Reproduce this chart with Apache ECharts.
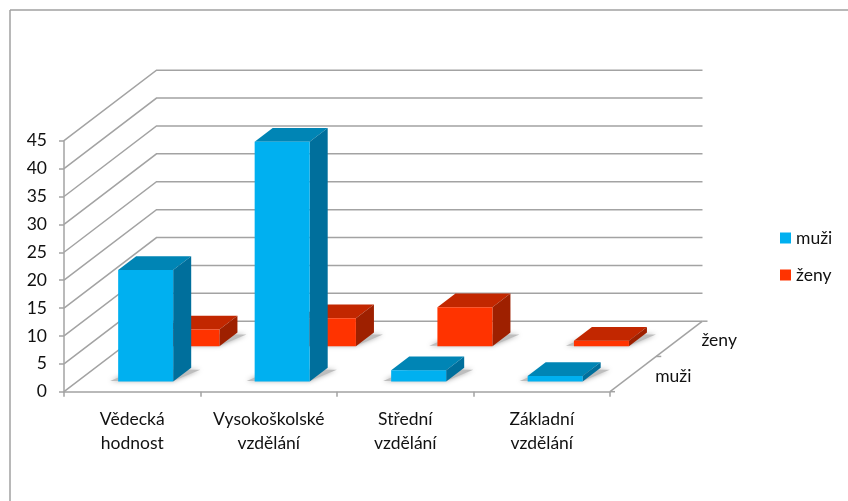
<!DOCTYPE html>
<html>
<head>
<meta charset="utf-8">
<title>Vzdělání</title>
<script src="https://cdn.jsdelivr.net/npm/echarts@6/dist/echarts.min.js"></script>
<style>
  html, body { margin: 0; padding: 0; background: #fff; }
  #chart { width: 848px; height: 501px; }
</style>
</head>
<body>
<div id="chart"></div>
<script>
const categories = ["Vědecká\nhodnost", "Vysokoškolské\nvzdělání", "Střední\nvzdělání", "Základní\nvzdělání"];
const menValues = [20, 43, 2, 1];
const womenValues = [3, 5, 7, 1];
const yTicks = [0, 5, 10, 15, 20, 25, 30, 35, 40, 45];
const depthLabels = ["muži", "ženy"];

const FONT = "Lato";
const FONT_SIZE = 17.5;
const GRID = "#a3a3a3";
const TEXT = "#111";
// posun z přední hrany podlahy na zadní stěnu
const DX = 92.5, DY = -70.5;
const BAR_W = 55, BAR_D = 0.195;

function wallItem(params, api) {
  const rect = params.coordSys;
  const p = api.coord([0, api.value(0)]);
  const x0 = rect.x, y = p[1];
  return {
    type: "polyline",
    shape: { points: [[x0, y], [x0 + DX, y + DY], [x0 + rect.width + DX, y + DY]] },
    style: { stroke: GRID, lineWidth: 1.5, fill: null },
    silent: true
  };
}

function barRenderer(z, front, top, side) {
  return function (params, api) {
    const i = api.value(0);
    const c0 = api.coord([i, 0]);
    const c1 = api.coord([i, api.value(1)]);
    const L = c0[0] - BAR_W / 2 + DX * z;
    const R = L + BAR_W;
    const B = c0[1] + DY * z;
    const T = c1[1] + DY * z;
    const dx = DX * BAR_D, dy = DY * BAR_D;
    return {
      type: "group",
      children: [
        {
          type: "polygon",
          shape: { points: [[L - 8, B - 0.5], [R, B - 0.5], [R + dx + 9, B + dy + 2], [L + dx, B + dy + 2]] },
          style: { fill: "#bdbdbd", shadowBlur: 5, shadowColor: "#a8a8a8" }
        },
        {
          type: "polygon",
          shape: { points: [[L, T], [R, T], [R + dx, T + dy], [L + dx, T + dy]] },
          style: { fill: top }
        },
        {
          type: "polygon",
          shape: { points: [[R, T], [R + dx, T + dy], [R + dx, B + dy], [R, B]] },
          style: { fill: side }
        },
        {
          type: "rect",
          shape: { x: L, y: T, width: BAR_W, height: B - T },
          style: { fill: front }
        }
      ]
    };
  };
}

function depthAxisItem(params, api) {
  const rect = params.coordSys;
  const x = rect.x + rect.width, y = rect.y + rect.height;
  const children = [{
    type: "line",
    shape: { x1: x, y1: y, x2: x + DX, y2: y + DY },
    style: { stroke: GRID, lineWidth: 1.5 }
  }];
  [0, 0.5, 1].forEach(function (t) {
    children.push({
      type: "line",
      shape: { x1: x + DX * t, y1: y + DY * t, x2: x + DX * t + 5, y2: y + DY * t },
      style: { stroke: GRID, lineWidth: 1.5 }
    });
  });
  depthLabels.forEach(function (name, k) {
    const t = 0.25 + k * 0.5;
    children.push({
      type: "text",
      style: {
        x: x + DX * t + 22, y: y + DY * t + 2,
        text: name, fill: TEXT, font: FONT_SIZE + "px " + FONT,
        textAlign: "left", textVerticalAlign: "middle"
      }
    });
  });
  return { type: "group", children: children };
}

const chart = echarts.init(document.getElementById("chart"));
chart.setOption({
  animation: false,
  backgroundColor: "#fff",
  textStyle: { fontFamily: FONT },
  graphic: [
    { type: "line", shape: { x1: 10, y1: 10, x2: 848, y2: 10 }, style: { stroke: "#a0a0a0", lineWidth: 1.5 } },
    { type: "line", shape: { x1: 10, y1: 10, x2: 10, y2: 501 }, style: { stroke: "#a0a0a0", lineWidth: 1.5 } }
  ],
  grid: { left: 64, right: 238, top: 140.7, bottom: 109.3 },
  legend: {
    data: [
      { name: "muži", icon: "rect" },
      { name: "ženy", icon: "rect" }
    ],
    orient: "vertical",
    left: 775,
    top: 224,
    itemWidth: 11,
    itemHeight: 11,
    itemGap: 19,
    selectedMode: false,
    textStyle: { fontFamily: FONT, fontSize: FONT_SIZE, color: TEXT }
  },
  xAxis: {
    type: "category",
    data: categories,
    axisLine: { lineStyle: { color: GRID, width: 1.5 } },
    axisTick: { show: true, length: 5, lineStyle: { color: GRID, width: 1.5 } },
    axisLabel: { fontFamily: FONT, fontSize: FONT_SIZE, color: TEXT, margin: 15.5, lineHeight: 24, interval: 0 }
  },
  yAxis: {
    type: "value",
    min: 0,
    max: 45,
    interval: 5,
    splitLine: { show: false },
    axisLine: { show: true, lineStyle: { color: GRID, width: 1.5 } },
    axisTick: { show: true, length: 5, lineStyle: { color: GRID, width: 1.5 } },
    axisLabel: { fontFamily: FONT, fontSize: FONT_SIZE, color: TEXT, margin: 17 }
  },
  series: [
    {
      type: "custom",
      name: "stěny",
      renderItem: wallItem,
      data: yTicks.map(function (v) { return [v]; }),
      encode: { y: 0 },
      silent: true,
      z: 1
    },
    {
      type: "custom",
      name: "hloubka",
      renderItem: depthAxisItem,
      data: [[0, 0]],
      silent: true,
      z: 1
    },
    {
      type: "custom",
      name: "ženy",
      renderItem: barRenderer(0.645, "#ff3300", "#c22700", "#9e2000"),
      data: womenValues.map(function (v, i) { return [i, v]; }),
      encode: { x: 0, y: 1 },
      itemStyle: { color: "#ff3300" },
      z: 2
    },
    {
      type: "custom",
      name: "muži",
      renderItem: barRenderer(0.145, "#00b0f0", "#0085b5", "#006f9c"),
      data: menValues.map(function (v, i) { return [i, v]; }),
      encode: { x: 0, y: 1 },
      itemStyle: { color: "#00b0f0" },
      z: 3
    }
  ]
});
</script>
</body>
</html>
